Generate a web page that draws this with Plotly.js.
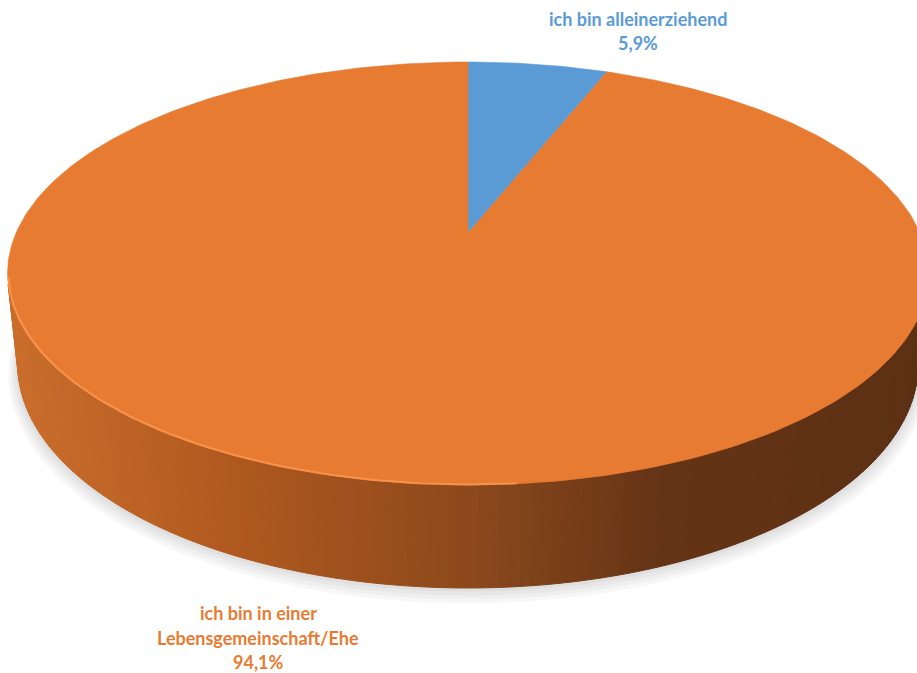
<!DOCTYPE html>
<html>
<head>
<meta charset="utf-8">
<script src="https://cdn.plot.ly/plotly-3.0.1.min.js"></script>
<style>html,body{margin:0;padding:0;background:#fff;}#chart{width:917px;height:673px;}</style>
</head>
<body>
<div id="chart"></div>
<script>
// ---- data ----
const labels = ['ich bin alleinerziehend', 'ich bin in einer Lebensgemeinschaft/Ehe'];
const values = [5.9, 94.1];
const sliceColors = ['#5B9BD5', '#E87B32'];
const labelColors = ['#5B9BD5', '#E87B32'];

// ---- 3D projection (perspective camera) ----
const CX = 468, CY = 233, F = 2106, D = 4.66;
const S = 0.4508, C = 0.8926, H = 0.2256;
function proj(X, Y, Z) {
  const xc = X, yc = Y * S + Z * C, zc = D + Y * C - Z * S;
  return [CX + F * xc / zc, CY - F * yc / zc];
}
function rim(phiDeg, Z, r) {
  const p = phiDeg * Math.PI / 180;
  r = r || 1;
  return proj(r * Math.sin(p), r * Math.cos(p), Z);
}
function hexToRgb(h){return [parseInt(h.slice(1,3),16),parseInt(h.slice(3,5),16),parseInt(h.slice(5,7),16)];}
const sideStops = [[0,'#CB6E2C'],[230,'#B0591F'],[470,'#8C491C'],[660,'#653416'],[930,'#5C3013']];
function sideColor(x){
  for(let i=0;i<sideStops.length-1;i++){
    const a=sideStops[i], b=sideStops[i+1];
    if(x<=b[0]||i===sideStops.length-2){
      let t=(x-a[0])/(b[0]-a[0]); t=Math.max(0,Math.min(1,t));
      const ca=hexToRgb(a[1]), cb=hexToRgb(b[1]);
      const c=ca.map((v,k)=>Math.round(v+(cb[k]-v)*t));
      return 'rgb('+c.join(',')+')';
    }
  }
}

const traces = [];
const total = values.reduce((a,b)=>a+b,0);

// soft shadow under the pie
for (let k = 1; k <= 4; k++) {
  const xs=[], ys=[];
  for (let a = 0; a <= 360; a += 2) {
    const p = rim(a, -H, 1 + 0.005*k);
    xs.push(p[0]); ys.push(p[1] + 2.2*k);
  }
  traces.push({x:xs,y:ys,mode:'lines',fill:'toself',fillcolor:'rgba(0,0,0,0.03)',line:{width:0},hoverinfo:'skip'});
}

// visible side wall facing the viewer
const visLimit = Math.acos(-1/(D*C)) * 180 / Math.PI;
const phiA = visLimit, phiB = 360 - visLimit;
const N = 140;
let start = 0;
const bounds = values.map(v => { const b=[start, start + v/total*360]; start=b[1]; return b; });
for (let i = 0; i < N; i++) {
  const a0 = phiA + (phiB-phiA)*i/N, a1 = phiA + (phiB-phiA)*(i+1)/N;
  const t0 = rim(a0,0), t1 = rim(a1,0), b1 = rim(a1,-H), b0 = rim(a0,-H);
  const col = sideColor((t0[0]+t1[0])/2);
  traces.push({x:[t0[0],t1[0],b1[0],b0[0],t0[0]], y:[t0[1],t1[1],b1[1],b0[1],t0[1]],
    mode:'lines',fill:'toself',fillcolor:col,line:{color:col,width:1},hoverinfo:'skip'});
}

// top face slices
values.forEach((v, i) => {
  const [a0, a1] = bounds[i];
  const c0 = proj(0,0,0);
  const xs=[c0[0]], ys=[c0[1]];
  const steps = Math.max(4, Math.ceil((a1-a0)/1));
  for (let k = 0; k <= steps; k++) {
    const p = rim(a0 + (a1-a0)*k/steps, 0);
    xs.push(p[0]); ys.push(p[1]);
  }
  xs.push(c0[0]); ys.push(c0[1]);
  traces.push({x:xs,y:ys,mode:'lines',fill:'toself',fillcolor:sliceColors[i],
    line:{color:sliceColors[i],width:0.6},name:labels[i],hoverinfo:'skip'});
});

// bevel highlight on front-left edge
{
  const xs=[], ys=[];
  for (let a = 175; a <= 258; a += 1) { const p = rim(a, 0, 0.998); xs.push(p[0]); ys.push(p[1]); }
  traces.push({x:xs,y:ys,mode:'lines',line:{color:'rgba(250,150,80,0.85)',width:2},hoverinfo:'skip'});
}

function fmt(v){return v.toFixed(1).replace('.', ',') + '%';}
const font = {family:'Lato, "Open Sans", sans-serif', size:18, weight:700};
const annotations = [];
function addLines(lines, x, y0, dy, color){
  lines.forEach((t,k)=>annotations.push({x:x,y:y0+dy*k,xref:'x',yref:'y',text:'<b>'+t+'</b>',showarrow:false,
    font:Object.assign({},font,{color:color}),xanchor:'center',yanchor:'middle'}));
}
addLines(['ich bin alleinerziehend', fmt(values[0])], 638, 19, 24, labelColors[0]);
addLines(['ich bin in einer', 'Lebensgemeinschaft/Ehe', fmt(values[1])], 258, 613, 24.5, labelColors[1]);

const layout = {
  width:917, height:673, margin:{l:0,r:0,t:0,b:0},
  paper_bgcolor:'#ffffff', plot_bgcolor:'#ffffff', showlegend:false,
  xaxis:{range:[0,917],visible:false,fixedrange:true},
  yaxis:{range:[673,0],visible:false,fixedrange:true},
  annotations: annotations
};
Plotly.newPlot('chart', traces, layout, {staticPlot:true});
</script>
</body>
</html>
